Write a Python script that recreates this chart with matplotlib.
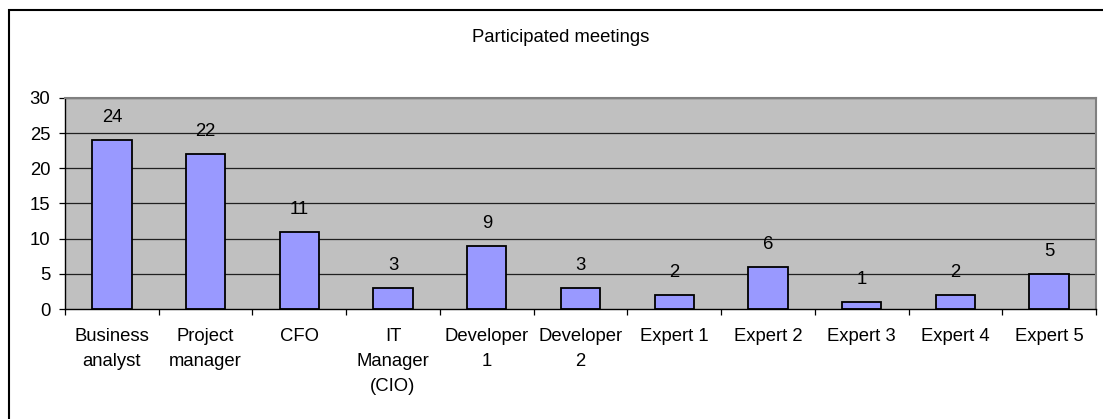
import matplotlib
import matplotlib.pyplot as plt
import numpy as np
from matplotlib.patches import Rectangle

matplotlib.rcParams['font.family'] = ['Liberation Sans', 'DejaVu Sans']
matplotlib.rcParams['font.size'] = 13.3

categories = ['Business\nanalyst', 'Project\nmanager', 'CFO', 'IT\nManager\n(CIO)',
              'Developer\n1', 'Developer\n2', 'Expert 1', 'Expert 2', 'Expert 3',
              'Expert 4', 'Expert 5']
meetings = [24, 22, 11, 3, 9, 3, 2, 6, 1, 2, 5]

W, H = 1103, 419
fig = plt.figure(figsize=(W / 100, H / 100), dpi=100)
ax = fig.add_axes([65 / W, 1 - 309 / H, (1096 - 65) / W, (309 - 98) / H])

# outer chart border (runs off right/bottom edges like the original)
fig.patches.append(Rectangle((9 / W, -0.1), 1.2, 1.1 - 10 / H,
                             transform=fig.transFigure, fill=False,
                             edgecolor='black', linewidth=1.5))

x = np.arange(len(categories))
ax.set_facecolor('#c0c0c0')
for y in range(5, 31, 5):
    ax.axhline(y, color='#202020', linewidth=0.9, zorder=1)

rects = ax.bar(x, meetings, 0.42, color='#9999ff', edgecolor='black',
               linewidth=1.3, zorder=2)

for rect in rects:
    h = rect.get_height()
    ax.annotate('{}'.format(h), xy=(rect.get_x() + rect.get_width() / 2, h),
                xytext=(0, 10), textcoords='offset points',
                ha='center', va='bottom')

ax.set_xlim(-0.5, len(categories) - 0.5)
ax.set_ylim(0, 30)
ax.set_yticks(range(0, 31, 5))
ax.set_xticks(x)
ax.set_xticklabels(categories, linespacing=1.6)
ax.set_xticks(np.arange(-0.5, len(categories)), minor=True)
ax.tick_params(axis='x', which='major', length=0, pad=14)
ax.tick_params(axis='x', which='minor', length=4.5, width=0.9)
ax.tick_params(axis='y', length=4.5, width=0.9, pad=6)

for side in ['top', 'right']:
    ax.spines[side].set_color('#808080')
    ax.spines[side].set_linewidth(1.5)
for side in ['left', 'bottom']:
    ax.spines[side].set_color('black')
    ax.spines[side].set_linewidth(1.0)

fig.text(561 / W, 1 - 42 / H, 'Participated meetings', ha='center', va='baseline')

fig.savefig('out.png', dpi=100)
